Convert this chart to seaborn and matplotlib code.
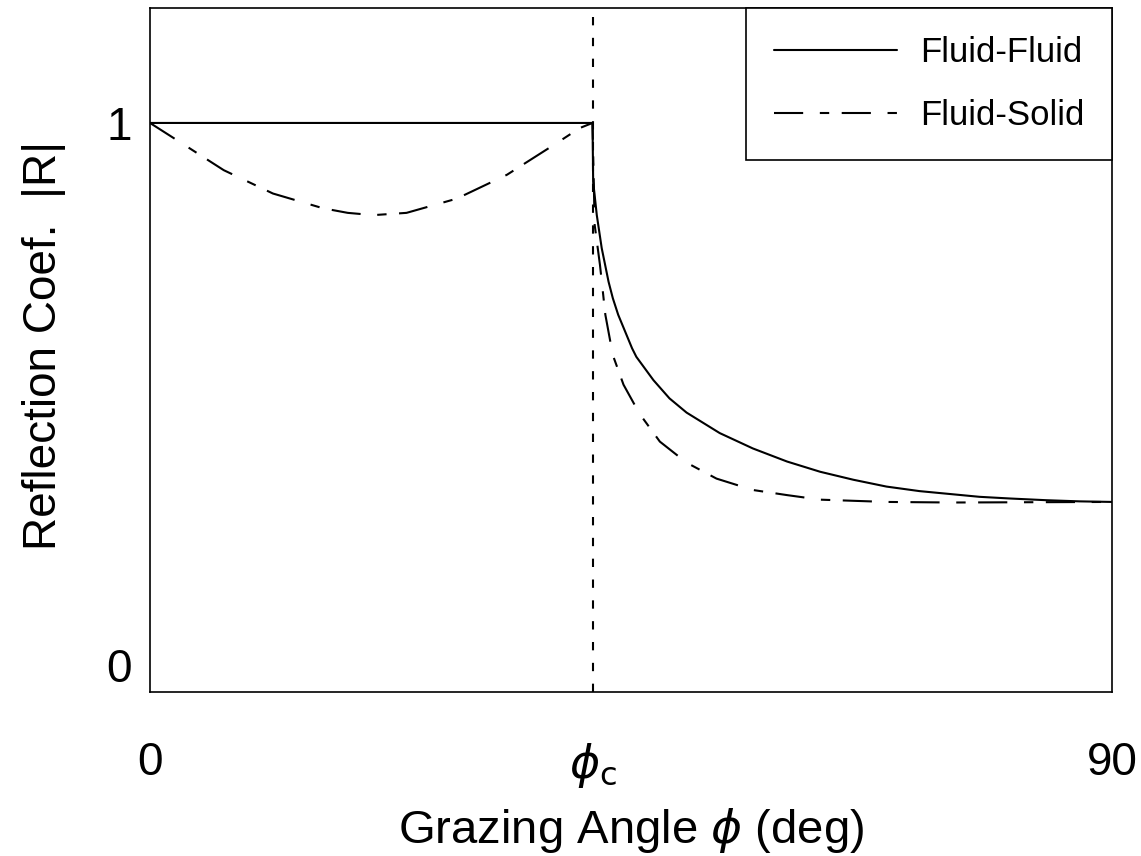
import numpy as np
import pandas as pd
import matplotlib
matplotlib.use('Agg')
import matplotlib.pyplot as plt
import seaborn as sns

# critical grazing angle (deg)
phi_c = 41.4

# Fluid-Fluid reflection coefficient
ff_angle = [0, 41.4, 41.46, 41.8, 42.26, 42.9, 43.3, 43.8, 45.1, 45.5, 47.1, 48.6, 50.2,
            53.3, 56.4, 59.6, 62.7, 65.8, 68.9, 72.0, 74.8, 77.6, 80.5, 83.9, 87.0, 90]
ff_R = [1, 1, 0.897, 0.838, 0.780, 0.721, 0.692, 0.663, 0.604, 0.589, 0.548, 0.516, 0.491,
        0.455, 0.428, 0.405, 0.387, 0.373, 0.361, 0.353, 0.348, 0.343, 0.340, 0.337, 0.335, 0.334]

# Fluid-Solid reflection coefficient
fs_angle = [0, 2.5, 6.9, 11.5, 16.2, 18.5, 20.9, 24.0, 28.7, 33.4, 38.0, 40.2, 41.4,
            41.6, 42.1, 42.6, 43.3, 44.3, 45.8, 47.7, 50.2, 53.0, 56.4, 59.6, 62.7,
            65.8, 68.9, 75.0, 90]
fs_R = [1, 0.970, 0.917, 0.876, 0.850, 0.842, 0.838, 0.842, 0.867, 0.909, 0.964, 0.991, 1,
        0.821, 0.750, 0.663, 0.592, 0.540, 0.489, 0.440, 0.403, 0.375, 0.355, 0.346, 0.338,
        0.336, 0.334, 0.333, 0.334]

x_ticks = [0, phi_c, 90]
x_ticklabels = ['0', r'$\phi_\mathrm{c}$', '90']
y_ticks = [0, 1]
y_ticklabels = ['0', '1']

sns.set_style('white')
plt.rcParams['font.family'] = ['Liberation Sans', 'DejaVu Sans']
plt.rcParams['mathtext.fontset'] = 'dejavusans'
plt.rcParams['text.color'] = 'black'
plt.rcParams['axes.labelcolor'] = 'black'
plt.rcParams['xtick.color'] = 'black'
plt.rcParams['ytick.color'] = 'black'

fig = plt.figure(figsize=(11.41, 8.56), dpi=100)
ax = fig.add_axes([150 / 1141, 1 - 692 / 856, 962 / 1141, 684 / 856])

lw = 1.5
sns.lineplot(x=ff_angle, y=ff_R, ax=ax, color='black', linewidth=lw,
             estimator=None, sort=False, label='Fluid-Fluid')
sns.lineplot(x=fs_angle, y=fs_R, ax=ax, color='black', linewidth=lw,
             estimator=None, sort=False, label='Fluid-Solid',
             linestyle=(0, (14, 8, 4.5, 6)))
ax.axvline(phi_c, color='black', linewidth=lw, linestyle=(0, (4, 6)))

ax.set_xlim(0, 90)
ax.set_ylim(0, 1.202)
ax.set_xticks(x_ticks)
ax.set_xticklabels(x_ticklabels)
ax.set_yticks(y_ticks)
ax.set_yticklabels(y_ticklabels)
ax.get_yticklabels()[0].set_va('bottom')
ax.tick_params(axis='x', length=0, pad=35, labelsize=33)
ax.tick_params(axis='y', length=0, pad=13, labelsize=33)

ax.set_xlabel(r'Grazing Angle $\phi$ (deg)', fontsize=34, va='center')
ax.xaxis.set_label_coords(0.5, -0.202)
ax.set_ylabel('Reflection Coef.  |R|', fontsize=33, va='center')
ax.yaxis.set_label_coords(-0.11, 0.506)

for s in ax.spines.values():
    s.set_color('black')
    s.set_linewidth(1.2)

leg = ax.legend(loc='upper right', fontsize=25, frameon=True, fancybox=False,
                handlelength=3.55, handletextpad=0.65, labelspacing=0.87,
                borderpad=0.8, borderaxespad=0, framealpha=1)
leg.get_frame().set_edgecolor('black')
leg.get_frame().set_linewidth(1.2)

fig.savefig('out.png', dpi=100)
